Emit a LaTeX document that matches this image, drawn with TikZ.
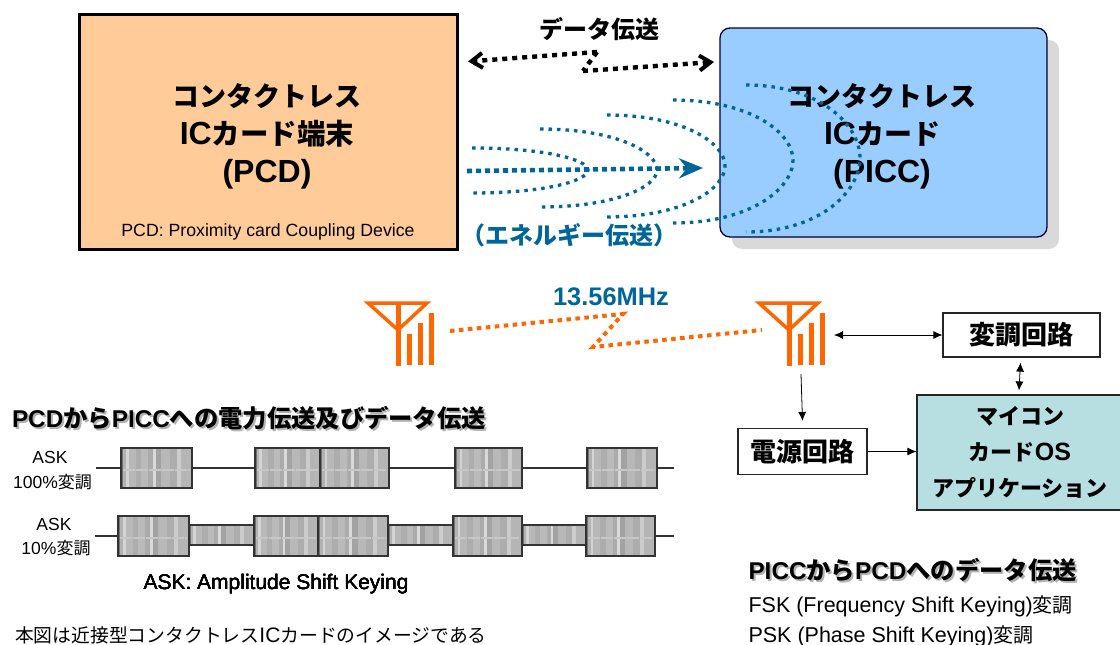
\documentclass[tikz,border=0pt]{standalone}
\usepackage{fontspec}
\setmainfont{Liberation Sans}
\newfontfamily\jpfont{Noto Sans CJK JP}
\newcommand{\jp}[1]{{\jpfont #1}}
\newcommand{\fsize}[1]{\fontsize{#1}{#1}\selectfont}
\newcommand{\jps}[2]{{\jpfont\fsize{#1}#2}}
\usepackage{xcolor}
\usetikzlibrary{arrows.meta}
\usetikzlibrary{calc}
\definecolor{pcdfill}{HTML}{FFCC99}
\definecolor{piccfill}{HTML}{99CCFF}
\definecolor{mcufill}{HTML}{B7DEE1}
\definecolor{fieldblue}{HTML}{006699}
\definecolor{antorange}{HTML}{FF6600}
\pgfdeclarehorizontalshading{askshade}{100bp}{color(0bp)=(black!55);color(26bp)=(black!55);color(26bp)=(black!30);color(28bp)=(black!30);color(28bp)=(black!17);color(30bp)=(black!17);color(30bp)=(black!28);color(35bp)=(black!28);color(35bp)=(black!32);color(39bp)=(black!32);color(39bp)=(black!27);color(44bp)=(black!27);color(44bp)=(black!33);color(47bp)=(black!33);color(47bp)=(black!15);color(49bp)=(black!15);color(49bp)=(black!36);color(53bp)=(black!36);color(53bp)=(black!28);color(59bp)=(black!28);color(59bp)=(black!32);color(64bp)=(black!32);color(64bp)=(black!20);color(67bp)=(black!20);color(67bp)=(black!29);color(74bp)=(black!29);color(74bp)=(black!55);color(100bp)=(black!55)}
\tikzset{
	termtext/.style={font=\fsize{32}\bfseries, align=center},
	circuit/.style={draw=black!85, line width=1.2pt, fill=white, font=\fsize{26}\bfseries, inner sep=0pt},
	link/.style={{Latex[length=9pt,width=8pt]}-{Latex[length=9pt,width=8pt]}, line width=0.8pt},
	linkto/.style={-{Latex[length=9pt,width=8pt]}, line width=0.8pt},
	datapath/.style={line width=4.4pt, dash pattern=on 5pt off 5pt, black},
	fieldline/.style={line width=3.3pt, dash pattern=on 3.5pt off 5pt, fieldblue},
	radiopath/.style={line width=4pt, dash pattern=on 4.5pt off 4.5pt, antorange},
	heading/.style={anchor=west, font=\fsize{24.3}\bfseries},
	wave/.style={draw=black!80, line width=1.3pt, shading=askshade},
	smalltext/.style={font=\fsize{17.5}, align=center},
	bodytext/.style={anchor=west, font=\fsize{21.5}},
}
\newcommand{\askblock}[4]{%
	\path[wave] (#1,#3) rectangle (#2,#4);
	\draw[black!22, line width=1.2pt, dash pattern=on 12pt off 1pt] (#1+2,{(#3+#4)/2+2}) -- (#2-2,{(#3+#4)/2+2});
}
\begin{document}
\begin{tikzpicture}[x=1pt,y=-1pt]
\useasboundingbox (0,0) rectangle (1120,645);
% upper boxes
\fill[black!15, rounded corners=10pt] (732,40) rectangle (1059,249);
\node (pcd) [draw, line width=3pt, fill=pcdfill, minimum width=378pt, minimum height=235pt, inner sep=0pt] at (268,132) {};
\node (picc) [draw=black!80!blue, line width=1.3pt, fill=piccfill, rounded corners=10pt, minimum width=327pt, minimum height=209pt, inner sep=0pt] at (883.5,132.5) {};
\node (pcdname) [termtext] at (267,136) {\jps{27}{コンタクトレス}\\[6pt]IC\jps{28.5}{カード端末}\\[6pt](PCD)};
\node (piccname) [termtext] at (882,136) {\jps{27}{コンタクトレス}\\[6pt]IC\jps{28}{カード}\\[6pt](PICC)};
\node (pcdnote) [font=\fsize{17.7}] at (268,232) {PCD: Proximity card Coupling Device};
% data transfer
\node (datalabel) [font=\fsize{24}\bfseries] at (599,29) {\jp{データ伝送}};
\coordinate (dataL) at (468,61.5);
\coordinate (dataR) at (714,62);
\draw[datapath, -{Straight Barb[length=11pt,width=15pt,line width=4pt]}] (597,52) -- (dataL);
\draw[datapath] (597,52) -- (583,71);
\draw[datapath, -{Straight Barb[length=11pt,width=15pt,line width=4pt]}] (583,71) -- (dataR);
% energy field
\foreach \xa/\xb/\ya/\yb/\ym in {472/588/148/193/170, 540/657/129/207/170, 607/725/115/217/166, 673/793/100/223/160, 746/860/85/232/158}
	\draw[fieldline] (\xa,\ya) .. controls ({\xa+0.65*(\xb-\xa)},\ya) and (\xb,{\ym-0.45*(\ym-\ya)}) .. (\xb,\ym)
		.. controls (\xb,{\ym+0.45*(\yb-\ym)}) and ({\xa+0.65*(\xb-\xa)},\yb) .. (\xa,\yb);
\coordinate (fieldL) at (467,171);
\coordinate (fieldR) at (703,168);
\draw[fieldline, line width=4.6pt, dash pattern=on 5pt off 4pt, -{Stealth[length=24pt,width=20pt,inset=8pt]}] (fieldL) -- (fieldR);
\node (fieldlabel) [font=\fsize{24}\bfseries, text=fieldblue] at (569,235) {\jp{（エネルギー伝送）}};
% radio link
\node (freq) [font=\fsize{25.4}\bfseries, text=fieldblue] at (611,297) {13.56MHz};
\foreach \a in {398, 789}
{
	\draw[antorange, line width=3.5pt] (\a-30,303) -- (\a+29,303) -- (\a,330) -- cycle;
	\draw[antorange, line width=5pt] (\a,302) -- (\a,366);
	\draw[antorange, line width=5pt] (\a+11,334) -- (\a+11,365);
	\draw[antorange, line width=5pt] (\a+22,323) -- (\a+22,365);
	\draw[antorange, line width=5pt] (\a+33,313) -- (\a+33,365);
}
\draw[radiopath] (450,331) -- (623,314) -- (593,347) -- (762,330);
% circuits
\node (mod) [circuit, minimum width=157pt, minimum height=44pt] at (1021.5,335) {\jp{変調回路}};
\node (pwr) [circuit, minimum width=129pt, minimum height=46pt] at (802.5,451.5) {\jp{電源回路}};
\node (mcu) [draw=black!85, line width=1.2pt, fill=mcufill, font=\fsize{22}\bfseries, align=center, minimum width=206pt, minimum height=115pt, inner sep=0pt] at (1020,452.5) {\jp{マイコン}\\[14pt]\jp{カード}{\fsize{25}OS}\\[14pt]\jp{アプリケーション}};
\coordinate (antRport) at (834,335);
\coordinate (antRfoot) at (801,374);
\draw[link] (antRport) -- (mod.west);
\draw[link] ($(mod.south)+(-1,5)$) -- ($(mcu.north)+(-1,-4)$);
\draw[linkto] (antRfoot) -- ($(pwr.north)+(0,-7)$);
\draw[linkto] (pwr.east) -- (pwr.east -| mcu.west);
% left heading with its shadow
\node (leftshadow) [heading, text=black!30] at (10.5,420) {PCD\jp{から}PICC\jp{への電力伝送及びデータ伝送}};
\node (lefthead) [heading] at (8.5,418) {PCD\jp{から}PICC\jp{への電力伝送及びデータ伝送}};
% ask waves
\node (askA) [smalltext] at (50,457) {ASK};
\node (askAm) [smalltext] at (52.5,482) {100\%\jps{17}{変調}};
\node (askB) [smalltext] at (54,524) {ASK};
\node (askBm) [smalltext] at (56,548) {10\%\jps{17}{変調}};
\draw[black!80, line width=1.2pt] (96,468) -- (674,468);
\draw[black!80, line width=1.2pt] (95,536) -- (674,536);
\foreach \l/\r in {121/192, 255/320, 320/389, 455/522, 587/657}
	\askblock{\l}{\r}{448}{488}
\foreach \l/\r in {189/254, 388/453, 522/586}
	\path[wave] (\l,525) rectangle (\r,545);
\foreach \l/\r in {118/189, 254/318, 318/388, 453/522, 586/655}
	\askblock{\l}{\r}{516}{556}
\node (asknote) [font=\fsize{21}] at (276,584) {ASK: Amplitude Shift Keying};
\node (imagenote) [bodytext] at (11.5,635) {\jps{18.8}{本図は近接型コンタクトレス}{\fsize{21}IC}\jps{18.8}{カードのイメージである}};
% right notes
\node (rightshadow) [heading, text=black!30] at (747,572) {PICC\jp{から}PCD\jp{へのデータ伝送}};
\node (righthead) [heading] at (745,570) {PICC\jp{から}PCD\jp{へのデータ伝送}};
\node (fsk) [bodytext] at (745,606) {FSK (Frequency Shift Keying)\jps{20}{変調}};
\node (psk) [bodytext] at (745,636) {PSK (Phase Shift Keying)\jps{20}{変調}};
\end{tikzpicture}
\end{document}
